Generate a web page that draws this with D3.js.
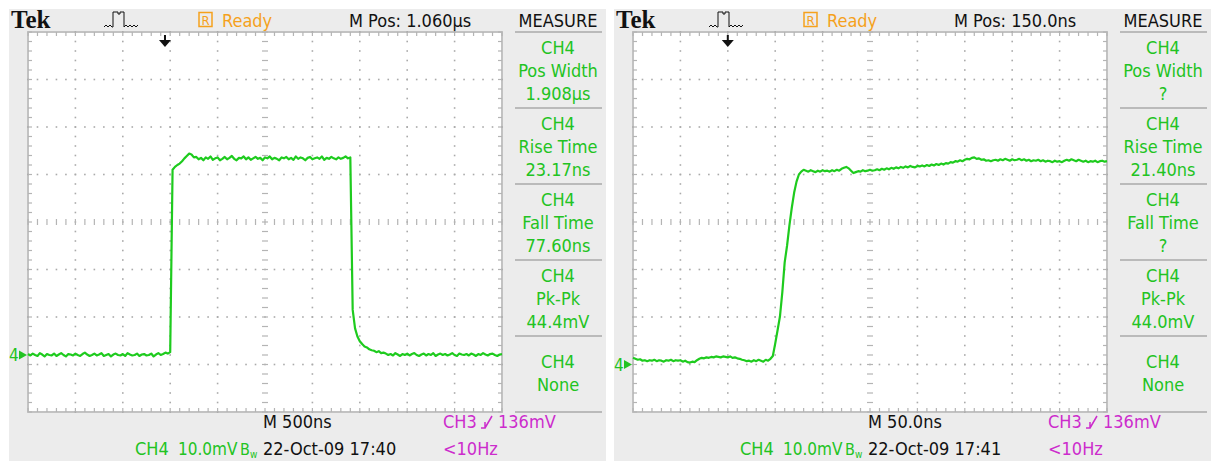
<!DOCTYPE html>
<html>
<head>
<meta charset="utf-8">
<script src="https://cdn.jsdelivr.net/npm/d3@7"></script>
<style>
 body { margin: 0; background: #fff; }
 svg { display: block; }
 text { font-family: "Liberation Sans Narrow", "DejaVu Sans Condensed", sans-serif; font-size: 18px; }
</style>
</head>
<body>
<script>
'use strict'
// Two Tek scope screenshots side by side, drawn with d3

// screen settings
const timePerDiv = [500, 50];          // ns per division
const sampleStep = [25, 2.5];          // ns between trace samples
const mvPerDiv = 10;
const groundDiv = [-2.8, -3.0];        // CH4 ground marker, in divisions from centre
const triggerDiv = [2.89, 2.0];        // trigger position arrow, in divisions from left

// CH4 trace, mV above ground, 500ns/div screen
const leftTraceMv = [
 0.2,-0.1,0.3,0.0,-0.2,0.4,0.1,-0.3,0.2,0.0,
 -0.1,0.3,-0.2,0.1,0.4,0.0,-0.3,0.2,0.1,-0.1,
 0.3,0.0,-0.2,0.2,0.5,0.1,-0.2,0.0,0.3,-0.1,
 0.1,0.4,-0.2,0.0,0.2,-0.3,0.1,0.3,0.0,-0.1,
 0.2,-0.2,0.4,0.1,-0.1,0.0,0.3,-0.2,0.1,0.2,
 -0.1,0.0,0.3,-0.3,0.1,0.4,0.0,0.2,0.5,0.3,
 0.6,39.0,39.6,40.0,40.3,40.8,41.4,41.9,42.4,42.2,
 41.6,
 41.7,41.2,41.5,41.0,41.6,41.3,41.8,41.1,41.4,41.6,
 41.0,41.3,41.7,41.2,41.5,41.9,41.3,41.0,41.5,41.4,
 41.8,41.2,41.6,41.1,41.4,41.7,41.3,41.5,41.0,41.6,
 41.4,41.8,41.2,41.5,41.3,41.0,41.6,41.4,41.7,41.2,
 41.5,41.1,41.8,41.3,41.6,41.4,41.0,41.5,41.7,41.2,
 41.4,41.6,41.3,41.8,41.1,41.5,41.3,41.7,41.4,41.2,
 41.6,41.3,41.5,41.8,41.4,41.6,
 9.5,5.6,3.9,2.9,2.3,1.8,1.6,1.2,1.0,0.9,0.6,0.8,0.4,0.5,
 0.3,0.0,0.2,-0.1,0.4,0.1,-0.2,0.2,0.0,0.3,
 -0.1,0.2,0.4,0.0,-0.2,0.1,0.3,-0.1,0.2,0.0,
 0.4,-0.2,0.1,0.3,0.0,0.2,-0.1,0.1,0.4,0.0,
 -0.2,0.3,0.1,0.0,0.2,-0.1,0.3,0.1,-0.2,0.2,
 0.0,0.4,0.1,-0.1,0.2,0.3,0.0,-0.2,0.1,0.2
];

// CH4 trace, mV above ground, 50ns/div screen
const rightTraceMv = [
 1.4,1.2,1.0,1.1,0.8,0.9,0.7,0.9,0.8,1.0,
 0.7,0.9,0.8,0.6,0.9,0.8,1.0,0.7,0.9,0.8,
 0.9,0.6,0.8,0.5,0.4,0.6,0.5,0.9,1.2,1.4,
 1.3,1.5,1.4,1.6,1.5,1.7,1.6,1.5,1.7,1.6,
 1.5,1.7,1.4,1.5,1.3,1.2,1.0,0.9,0.7,0.8,
 0.6,0.9,0.7,1.0,0.8,0.6,1.0,0.8,1.2,
 1.8,4.4,7.2,10.1,15.2,21.5,25.0,29.3,33.0,36.2,38.5,40.0,40.6,41.0,
 40.8,40.6,40.9,40.7,40.5,40.8,40.6,40.9,40.7,40.8,
 40.6,40.9,40.7,41.0,40.8,41.2,41.4,41.6,41.3,40.8,
 40.3,40.5,40.7,40.6,40.9,40.7,40.8,41.0,40.8,40.9,
 41.1,40.9,41.2,41.0,41.3,41.1,41.4,41.2,41.5,41.3,
 41.6,41.4,41.7,41.5,41.8,41.6,41.5,41.8,41.7,41.9,
 41.7,42.0,41.8,42.1,41.9,42.2,42.0,42.3,42.1,42.4,
 42.3,42.6,42.5,42.8,42.7,43.0,42.8,43.1,43.3,43.2,
 43.5,43.6,43.3,43.4,43.1,43.2,42.9,43.0,42.8,43.0,
 43.1,42.9,43.2,43.0,43.3,43.1,42.9,43.2,43.0,43.1,
 43.3,43.0,43.2,42.9,43.1,42.8,43.0,42.9,43.1,42.8,
 43.0,42.7,42.9,42.8,42.6,42.9,42.7,42.8,42.6,42.9,
 43.1,42.9,43.2,43.0,42.8,43.1,42.9,42.7,42.9,42.6,
 42.8,42.7,42.9,42.6,42.8,42.9,42.7,42.8
];

// measure menu boxes
const leftMeasure = [
 ["CH4", "Pos Width", "1.908µs"],
 ["CH4", "Rise Time", "23.17ns"],
 ["CH4", "Fall Time", "77.60ns"],
 ["CH4", "Pk-Pk", "44.4mV"],
 ["CH4", "None"]
];
const rightMeasure = [
 ["CH4", "Pos Width", "?"],
 ["CH4", "Rise Time", "21.40ns"],
 ["CH4", "Fall Time", "?"],
 ["CH4", "Pk-Pk", "44.0mV"],
 ["CH4", "None"]
];

const mPosLabels = ["M Pos: 1.060µs", "M Pos: 150.0ns"];
const timebaseLabels = ["M 500ns", "M 50.0ns"];
const dateLabels = ["22-Oct-09 17:40", "22-Oct-09 17:41"];
const chLabel = "CH4";
const vdivLabel = "10.0mV";
const trigLabel = ["CH3", "136mV"];
const trigFreq = "<10Hz";

const traces = [leftTraceMv, rightTraceMv];
const measures = [leftMeasure, rightMeasure];
const panelOffset = [0, 605];

const green = "#22c322", traceGreen = "#1ecb1e", orange = "#f5a11c", magenta = "#cc2ccc", ink = "#111";

let svg = d3.select("body").append("svg").attr("width", 1216).attr("height", 463);

function txt(g, x, y, s, color, anchor) {
 return g.append("text").attr("x", x).attr("y", y).attr("fill", color)
  .attr("text-anchor", anchor || "start").text(s);
}

function drawScope(i) {
 let g = svg.append("g").attr("transform", "translate(" + panelOffset[i] + ",0)");

 g.append("rect").attr("x", 9).attr("y", 9).attr("width", 597).attr("height", 452).attr("fill", "#ececec");

 let x = d3.scaleLinear().domain([0, 10]).range([28, 502]);
 let y = d3.scaleLinear().domain([-4, 4]).range([412, 32]);

 // graticule
 g.append("rect").attr("x", x(0)).attr("y", y(4)).attr("width", x(10) - x(0)).attr("height", y(-4) - y(4))
  .attr("fill", "#fff").attr("stroke", "#c2c2c2").attr("stroke-width", 2);

 let minorX = d3.range(0, 51).map(k => k / 5);
 let minorY = d3.range(-20, 21).map(k => k / 5);
 let dots = [];
 [1, 2, 3, 4, 6, 7, 8, 9].forEach(d => minorY.forEach(m => dots.push([d, m])));
 [-3, -2, -1, 1, 2, 3].forEach(d => minorX.forEach(m => dots.push([m, d])));
 g.append("g").selectAll("rect").data(dots).join("rect")
  .attr("x", d => x(d[0]) - 0.8).attr("y", d => y(d[1]) - 0.8)
  .attr("width", 1.6).attr("height", 1.6).attr("fill", "#aaaaaa");

 let ticks = g.append("g").attr("stroke", "#b4b4b4").attr("stroke-width", 1.2);
 minorY.forEach(m => {
  ticks.append("line").attr("x1", x(5) - 3).attr("x2", x(5) + 3).attr("y1", y(m)).attr("y2", y(m));
  ticks.append("line").attr("x1", x(0)).attr("x2", x(0) + 4).attr("y1", y(m)).attr("y2", y(m));
  ticks.append("line").attr("x1", x(10) - 4).attr("x2", x(10)).attr("y1", y(m)).attr("y2", y(m));
 });
 minorX.forEach(m => {
  ticks.append("line").attr("x1", x(m)).attr("x2", x(m)).attr("y1", y(0) - 3).attr("y2", y(0) + 3);
  ticks.append("line").attr("x1", x(m)).attr("x2", x(m)).attr("y1", y(4)).attr("y2", y(4) + 4);
  ticks.append("line").attr("x1", x(m)).attr("x2", x(m)).attr("y1", y(-4) - 4).attr("y2", y(-4));
 });

 // CH4 trace
 let tx = d3.scaleLinear().domain([0, 10 * timePerDiv[i]]).range([x(0), x(10)]);
 let line = d3.line()
  .x((d, k) => tx(k * sampleStep[i]))
  .y(d => y(d / mvPerDiv + groundDiv[i]));
 g.append("path").datum(traces[i]).attr("d", line)
  .attr("fill", "none").attr("stroke", traceGreen).attr("stroke-width", 2.2).attr("stroke-linejoin", "round");

 // ground marker
 let gy = y(groundDiv[i]);
 txt(g, 9, gy + 6, "4", green).style("font-size", "17px");
 g.append("path").attr("d", "M19," + (gy - 4.5) + "L27," + gy + "L19," + (gy + 4.5) + "Z").attr("fill", green);

 // trigger position arrow
 let ax = x(triggerDiv[i]);
 g.append("rect").attr("x", ax - 1).attr("y", 35).attr("width", 2).attr("height", 5).attr("fill", ink);
 g.append("path").attr("d", "M" + (ax - 6) + ",40L" + (ax + 6) + ",40L" + ax + ",47Z").attr("fill", ink);

 // header
 txt(g, 11, 28, "Tek", ink).style("font-family", "'Liberation Serif', serif").style("font-weight", "bold").style("font-size", "25px");
 g.append("path").attr("d", "M104,27l2,-2l2,2l2,-2l2,2L113,27L113,12L118,12L118,14L120,14L120,12L124,12L124,27l2,-2l2,2l2,-2l2,2l2,-2l2,2l2,-2")
  .attr("fill", "none").attr("stroke", ink).attr("stroke-width", 1);
 g.append("rect").attr("x", 199).attr("y", 12.5).attr("width", 13).attr("height", 14)
  .attr("fill", "none").attr("stroke", orange).attr("stroke-width", 1.5);
 txt(g, 205.5, 25, "R", orange, "middle").style("font-size", "13px");
 txt(g, 222, 27, "Ready", orange);
 txt(g, 349, 27, mPosLabels[i], ink);
 txt(g, 558, 27, "MEASURE", ink, "middle");

 // measure boxes
 let boxTop = d3.range(0, 6).map(k => 32 + k * 76);
 g.append("g").selectAll("line").data(boxTop).join("line")
  .attr("x1", 515).attr("x2", 602).attr("y1", d => d).attr("y2", d => d)
  .attr("stroke", "#bababa").attr("stroke-width", 2);
 measures[i].forEach((rows, k) => {
  let first = rows.length === 3 ? boxTop[k] + 22 : boxTop[k] + 32;
  rows.forEach((r, j) => txt(g, 558, first + j * 23, r, green, "middle"));
 });

 // footer
 txt(g, 263, 428, timebaseLabels[i], ink);
 txt(g, 443, 428, trigLabel[0], magenta);
 g.append("path").attr("d", "M481,428h4v-6M485,428l7,-12").attr("fill", "none").attr("stroke", magenta).attr("stroke-width", 1.5);
 txt(g, 498, 428, trigLabel[1], magenta);
 txt(g, 135, 455, chLabel, green);
 txt(g, 178, 455, vdivLabel, green).style("font-size", "17px");
 let bw = txt(g, 240, 455, "B", green).style("font-size", "16px");
 bw.append("tspan").attr("dy", 3).style("font-size", "10px").text("w");
 txt(g, 263, 455, dateLabels[i], ink);
 txt(g, 443, 455, trigFreq, magenta);
}

drawScope(0);
drawScope(1);
</script>
</body>
</html>
